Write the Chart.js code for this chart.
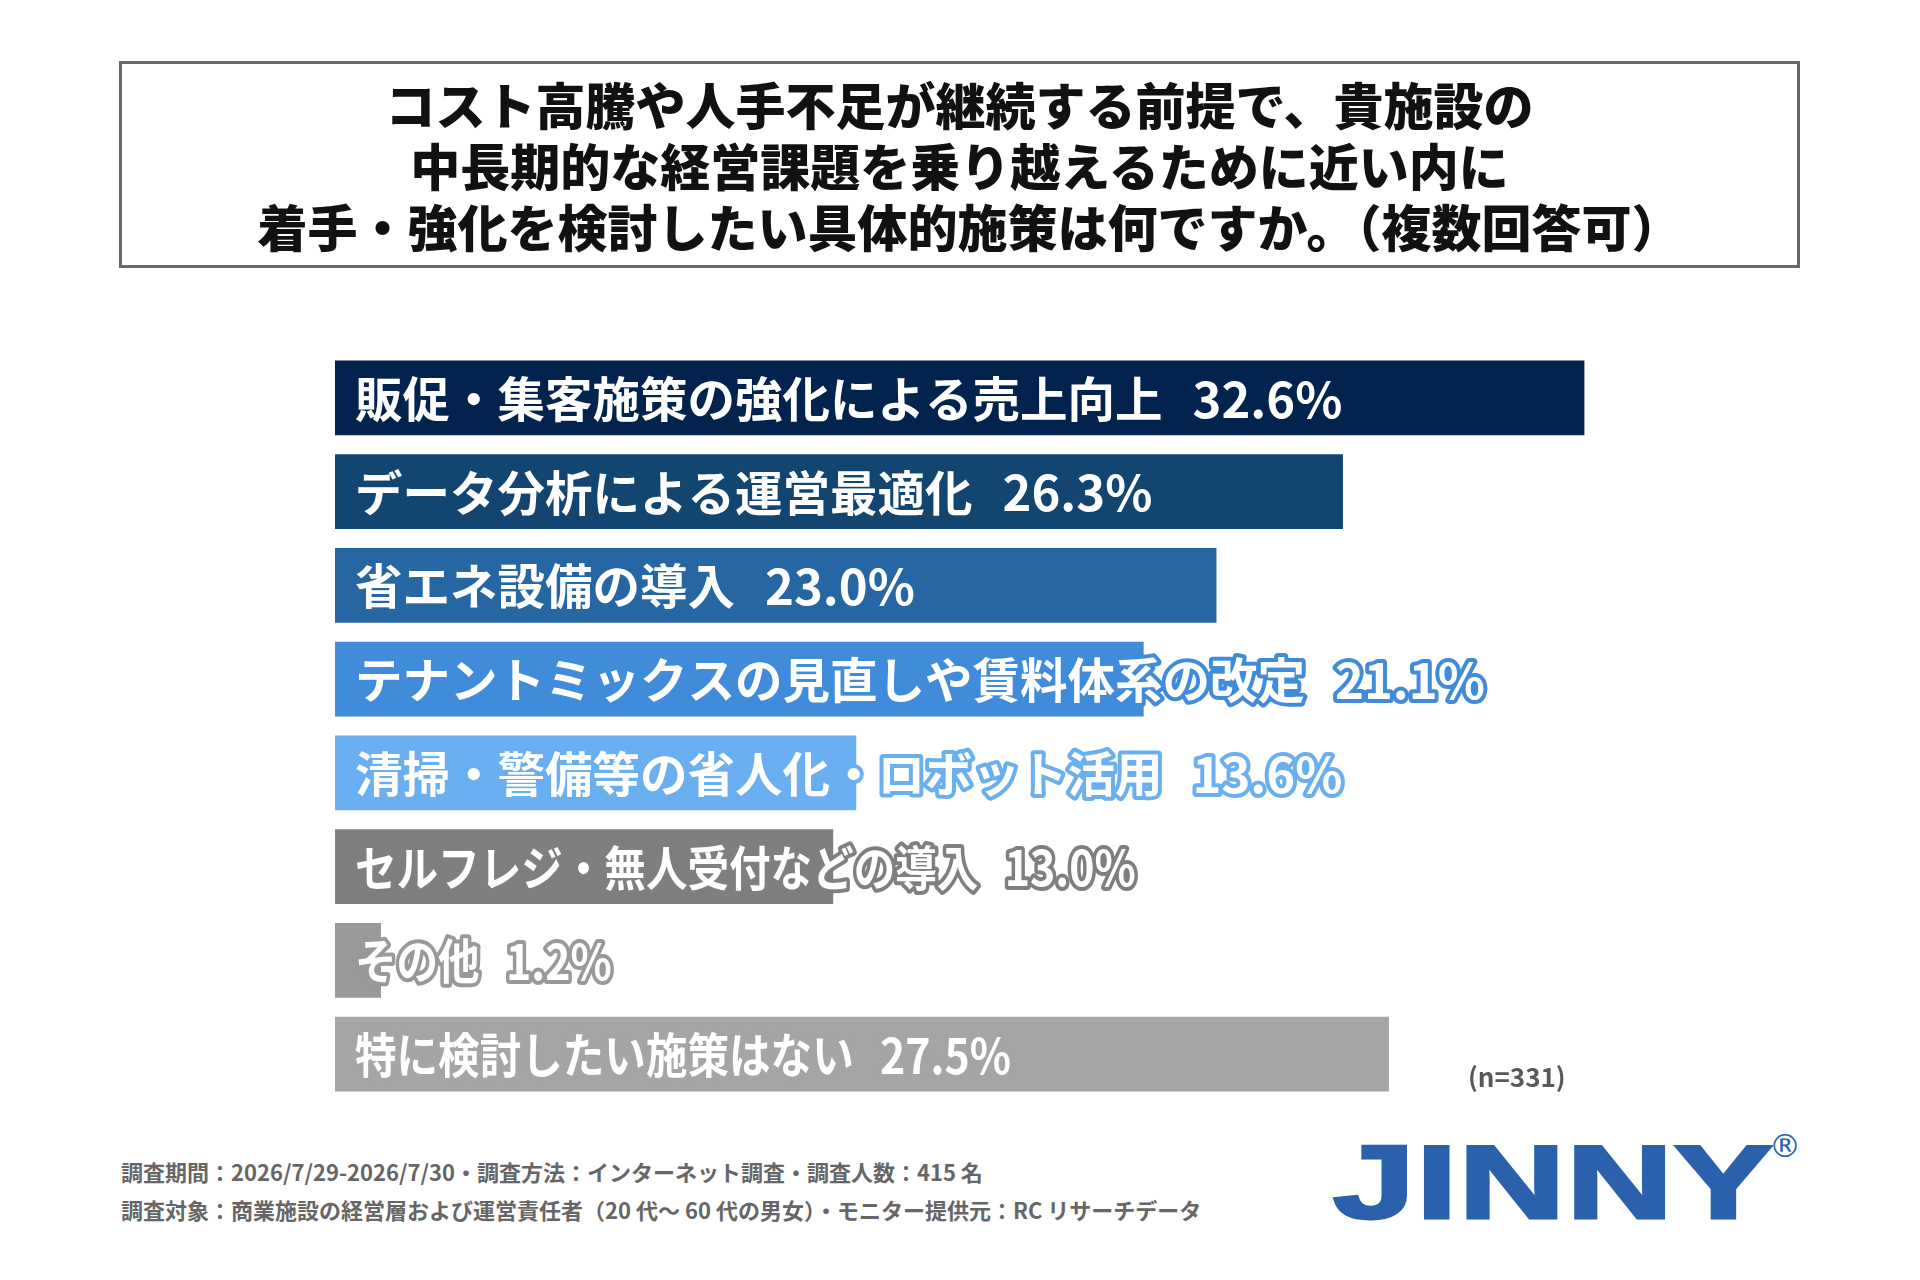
<!DOCTYPE html>
<html lang="ja">
<head>
<meta charset="utf-8">
<script src="https://cdn.jsdelivr.net/npm/chart.js@4.4.1/dist/chart.umd.min.js"></script>
<style>
  body { margin: 0; background: #fff; }
  #page { position: relative; width: 1920px; height: 1280px; background: #fff; overflow: hidden;
          font-family: "Noto Sans CJK JP", "Noto Sans", sans-serif; }
  #titleBox { position: absolute; left: 119px; top: 61px; width: 1675px; height: 201px;
              border: 3px solid #5f6a72; display: flex; flex-direction: column;
              justify-content: center; align-items: center; }
  #titleBox div { font-size: 50px; font-weight: 900; color: #111; line-height: 61px; }
  #titleBox .t3 { position: relative; left: 10px; }
  #chartWrap { position: absolute; left: 335px; top: 351px; width: 1533px; height: 750px; }
  #nCount { position: absolute; left: 1468px; top: 1057px; font-size: 26px; font-weight: 700; color: #595959; }
  .foot { position: absolute; left: 121px; font-size: 22px; font-weight: 700; color: #666; white-space: nowrap; }
  #logo { position: absolute; left: 1333px; top: 1131px; color: #2b60ad; font-family: "Liberation Sans", sans-serif;
          font-weight: 700; font-size: 103px; line-height: 103px; transform: scaleX(1.43); transform-origin: left top;
          -webkit-text-stroke: 3px #2b60ad; letter-spacing: 1px; }
  #reg { position: absolute; left: 1769px; top: 1127px; color: #2b60ad; font-family: "DejaVu Sans", sans-serif; font-size: 32px; }
</style>
</head>
<body>
<div id="page">
  <div id="titleBox">
    <div>コスト高騰や人手不足が継続する前提で、貴施設の</div>
    <div>中長期的な経営課題を乗り越えるために近い内に</div>
    <div class="t3">着手・強化を検討したい具体的施策は何ですか。（複数回答可）</div>
  </div>
  <div id="chartWrap"><canvas id="barChart"></canvas></div>
  <div id="nCount">(n=331)</div>
  <div class="foot" style="top:1155px">調査期間：2026/7/29-2026/7/30・調査方法：インターネット調査・調査人数：415 名</div>
  <div class="foot" style="top:1193px">調査対象：商業施設の経営層および運営責任者（20 代～ 60 代の男女）・モニター提供元：RC リサーチデータ</div>
  <div id="logo">JINNY</div>
  <div id="reg">®</div>
</div>
<script>
const categories = [
    "販促・集客施策の強化による売上向上",
    "データ分析による運営最適化",
    "省エネ設備の導入",
    "テナントミックスの見直しや賃料体系の改定",
    "清掃・警備等の省人化・ロボット活用",
    "セルフレジ・無人受付などの導入",
    "その他",
    "特に検討したい施策はない"
];
const values = [32.6, 26.3, 23.0, 21.1, 13.6, 13.0, 1.2, 27.5];
const barColors = ["#03234f", "#134571", "#2666a3", "#408cdb", "#6aaff0", "#7f7f7f", "#999999", "#a5a5a5"];
// the grey rows use a narrower label in the original
const labelScaleX = [1, 1, 1, 1, 1, 0.875, 0.875, 0.875];

// white label with an outline in the bar colour, so it stays readable past the bar end
const barLabels = {
    id: "barLabels",
    afterDatasetsDraw(chart) {
        const ctx = chart.ctx;
        const meta = chart.getDatasetMeta(0);
        meta.data.forEach((bar, i) => {
            const valText = values[i].toFixed(1) + "%";
            ctx.save();
            ctx.translate(bar.base + 20, bar.y + 1);
            ctx.scale(labelScaleX[i], 1);
            ctx.textBaseline = "middle";
            ctx.lineJoin = "round";
            ctx.lineWidth = 8;
            ctx.strokeStyle = barColors[i];
            ctx.fillStyle = "#ffffff";
            ctx.font = "700 47.5px 'Noto Sans CJK JP', sans-serif";
            const xVal = ctx.measureText(categories[i]).width + 30;
            ctx.strokeText(categories[i], 0, 0);
            ctx.fillText(categories[i], 0, 0);
            ctx.font = "700 49px 'Noto Sans CJK JP', sans-serif";
            ctx.strokeText(valText, xVal, 0);
            ctx.fillText(valText, xVal, 0);
            ctx.restore();
        });
    }
};

new Chart(document.getElementById("barChart"), {
    type: "bar",
    data: {
        labels: categories,
        datasets: [{
            data: values,
            backgroundColor: barColors,
            categoryPercentage: 1.0,
            barPercentage: 0.795
        }]
    },
    options: {
        indexAxis: "y",
        responsive: true,
        maintainAspectRatio: false,
        animation: false,
        layout: { padding: 0 },
        scales: {
            x: { display: false, min: 0, max: 40 },
            y: { display: false }
        },
        plugins: {
            legend: { display: false },
            tooltip: { enabled: false }
        }
    },
    plugins: [barLabels]
});
</script>
</body>
</html>
